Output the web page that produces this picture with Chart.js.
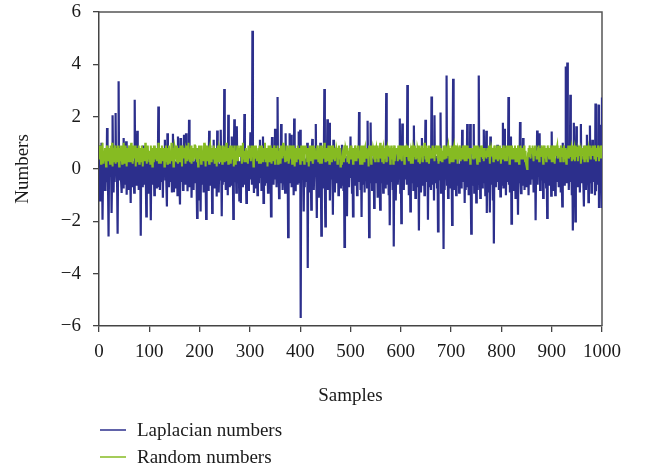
<!DOCTYPE html>
<html>
<head>
<meta charset="utf-8">
<title>Laplacian and random numbers</title>
<script src="https://cdn.jsdelivr.net/npm/chart.js@4.4.1/dist/chart.umd.min.js"></script>
<style>
  html, body { margin: 0; padding: 0; background: #fff; }
  #wrap { width: 649px; height: 471px; position: relative; }
</style>
</head>
<body>
<div id="wrap"><canvas id="noise-chart"></canvas></div>
<script>
// 1000 Laplacian samples, ten per row
var laplacian = [
  0.9, -1.2, 0.3, -0.4, 1.0, 0.2, -1.94, -0.3, 0.5, -0.6,
  0.1, -0.8, 0.4, -0.2, -0.5, 1.57, 0.0, -0.7, -2.58, 0.3,
  -0.3, 0.6, -0.1, 0.2, -1.68, -0.4, 2.05, 0.1, -0.9, 0.4,
  -0.5, 0.2, 2.14, -0.2, 0.5, -0.6, -2.47, 0.3, 3.35, -0.4,
  0.0, -0.3, 0.7, -0.5, -0.92, 0.4, -0.1, -0.7, 1.18, 0.2,
  -0.4, 0.3, -0.6, 1.06, -0.98, 0.1, -0.3, 0.5, -0.8, 0.2,
  0.4, -0.2, -1.3, 0.6, -0.5, 0.0, -0.7, 0.3, -0.1, -0.9,
  2.65, -0.4, 0.2, -0.6, 0.5, 1.46, -0.3, 0.1, -0.8, 0.4,
  -0.2, 0.3, -2.55, 0.6, -0.5, -0.1, -0.7, 0.9, -0.3, 0.2,
  -0.6, 0.5, -0.2, -1.81, 0.3, -0.4, 0.1, -0.9, 0.4, -0.3,
  0.2, -0.5, -1.96, 0.4, -0.1, 0.7, -0.6, -0.2, 0.3, -1.0,
  0.5, -0.3, 0.1, -0.7, 0.4, -0.66, 0.2, 2.39, -0.4, 0.0,
  -0.8, 0.3, -0.2, 0.6, -0.5, 0.1, -1.1, 0.4, -0.3, 0.2,
  1.12, -0.4, 0.3, -0.6, -1.43, 1.37, -0.2, 0.5, -0.7, 0.1,
  -0.3, 0.6, -0.5, 0.2, -0.9, 0.0, 1.35, -0.85, 0.4, -0.2,
  0.3, -0.7, 0.1, -0.4, 0.5, -1.0, 1.24, -0.3, 0.2, -0.6,
  -1.36, 1.18, -0.2, 0.4, -0.5, 0.1, -0.8, 0.3, 1.31, -0.4,
  0.2, -0.6, 1.37, -0.3, 0.5, -0.85, 0.0, -0.4, 1.88, -0.7,
  0.4, -0.2, 0.6, -1.1, 0.1, -0.5, 0.3, -0.8, 0.2, -0.3,
  -0.5, 0.3, 0.8, -0.4, -1.87, 0.5, -0.1, -0.7, 0.4, -1.2,
  0.1, -1.62, 0.5, -0.3, 0.2, -0.6, 0.7, -0.9, 0.0, -0.4,
  0.3, -0.5, -1.91, 0.6, -0.2, 0.4, -0.8, 0.1, 1.46, -0.3,
  -0.6, 0.2, -0.1, 0.5, -1.68, 0.3, -0.4, 1.12, -0.7, 0.0,
  0.4, -0.3, 0.6, -1.05, 1.47, -0.5, 0.2, -0.9, 0.1, -0.2,
  -0.4, 1.5, 0.0, -1.81, 0.3, -0.6, 0.5, -0.2, 3.06, -0.5,
  0.2, -0.8, 0.4, -0.3, 0.6, -1.0, 2.07, -0.1, 0.3, -0.7,
  0.5, -0.2, -0.6, 1.24, -0.4, 0.1, -1.91, 0.3, 1.9, -0.5,
  -0.3, 0.4, -0.9, 1.63, -0.2, 0.6, -0.5, 0.0, -1.2, 0.3,
  0.2, -1.3, 0.5, -0.4, 0.1, -0.7, 0.6, -0.2, 2.1, -0.6,
  0.3, -0.1, -1.3, 0.4, -0.5, 0.7, -0.8, 0.2, -0.3, 0.5,
  1.4, -0.4, 0.1, -0.6, 5.28, -0.2, 0.3, -0.92, 0.5, -0.3,
  -0.7, 0.2, -0.4, 0.6, -1.0, 0.0, -0.5, 0.4, -0.2, 1.12,
  -0.3, 0.5, -0.8, 0.1, -0.4, 1.24, -1.3, 0.3, -0.6, 0.2,
  0.4, -0.2, 0.7, -0.5, 0.0, -0.9, 0.3, -0.3, 0.6, -0.7,
  0.1, -1.81, 0.4, 1.22, -0.3, 0.2, -0.6, 0.5, -0.4, 1.54,
  -0.2, 0.3, -0.7, 0.6, 2.75, -0.4, 0.1, -1.11, 0.4, -0.5,
  0.0, 1.72, -0.3, 0.5, -0.8, 0.2, -0.5, 0.7, -0.1, -0.9,
  1.37, -0.4, 0.3, -0.6, 0.4, -2.6, 0.1, -0.3, 1.37, -0.5,
  0.2, 1.31, -0.7, 0.4, -0.2, 0.6, -1.0, 1.93, -0.4, 0.3,
  -0.85, 0.5, -0.3, 0.1, -0.6, 0.4, 1.43, -0.5, 0.2, 1.5,
  -5.69, 0.3, -0.4, 0.6, -0.2, 0.1, -1.62, 0.4, -0.7, 0.2,
  -0.5, 0.3, -0.1, 1.0, -3.78, 0.5, -0.6, 0.2, -0.9, 0.4,
  0.1, -1.55, 0.6, 1.15, -0.4, 0.2, -0.8, 0.0, -0.3, 0.5,
  1.72, -0.2, -1.87, 0.4, -0.5, 0.3, -1.1, 0.6, -0.4, 1.0,
  0.2, -2.55, 0.5, -0.3, 0.1, -0.7, 0.4, 3.06, -0.6, -2.19,
  0.3, -0.5, -0.1, 1.9, -0.8, 0.4, -0.2, 1.77, -1.2, 0.2,
  -0.4, 0.6, -0.3, 0.1, -1.75, 1.12, -0.6, 0.3, -0.9, 0.5,
  0.0, -0.5, 0.4, -0.2, 0.7, -1.0, 0.2, -0.4, 0.5, -0.7,
  0.3, -0.6, 0.93, -0.3, 0.1, -0.8, 0.4, -2.98, 0.6, -0.2,
  -0.5, 0.2, -1.81, 0.5, -0.3, 0.0, -0.7, 0.4, -0.1, 1.24,
  -0.3, 0.6, -0.9, 0.2, -1.81, 0.4, -0.2, 0.1, -0.6, 0.5,
  -0.4, 0.3, -1.0, 0.5, -0.2, 0.0, 2.18, -0.5, 0.4, -0.8,
  0.1, -1.83, 0.6, -0.3, 0.4, -0.6, 0.2, -0.9, 0.5, -0.1,
  -0.4, 0.3, -0.7, 1.84, -0.2, 0.5, -2.6, 0.1, -0.5, 1.78,
  -0.3, 0.4, -0.8, 0.2, -0.1, 0.6, -1.49, 0.3, -0.5, 0.0,
  0.5, -0.4, 0.2, -1.1, 0.4, -0.2, 0.7, -0.6, -1.55, 0.3,
  -0.2, 0.6, -0.5, 0.1, -0.9, 0.4, -0.3, 0.5, -0.7, 0.2,
  2.9, -0.4, 0.3, -0.6, 0.0, -1.0, 0.5, -2.15, 0.2, -0.3,
  0.6, -0.5, 0.1, -0.8, 0.4, -2.96, 0.3, -0.2, 0.5, -1.2,
  0.2, -0.3, 0.7, -0.6, 0.0, -0.4, 0.5, 1.93, -0.9, 0.3,
  -2.07, 0.4, 1.74, -0.5, 0.1, -0.8, 0.3, -0.2, 0.6, -0.4,
  0.2, -0.6, 3.21, -0.3, 0.5, -1.0, 0.1, 0.4, -1.62, 0.3,
  -0.5, 0.2, -0.2, 0.6, -0.8, 1.66, -0.4, 0.3, -1.1, 0.0,
  0.4, -0.3, 0.6, -0.7, 0.1, -2.35, 0.5, -0.2, 0.3, -0.9,
  -0.4, 1.18, -0.6, 0.2, -0.1, 0.5, -1.0, 0.3, 1.88, -0.5,
  0.3, -0.2, 0.6, -1.94, 0.4, -0.7, 0.1, -0.4, 0.5, -0.8,
  2.77, -0.3, 0.2, -0.6, 0.4, -1.2, 2.05, -0.5, 0.1, -0.3,
  0.5, -0.7, 0.3, -2.38, 0.0, -0.4, 0.6, -0.2, 2.16, -0.9,
  0.2, -0.5, 0.4, -0.3, -3.06, 0.6, -0.8, 0.1, -0.4, 0.3,
  3.57, -0.6, 0.2, -1.1, 0.5, -0.3, 0.4, -0.7, 0.0, -0.5,
  0.3, -2.14, 0.5, 3.45, -0.4, 0.1, -0.8, 0.6, -0.2, -1.0,
  0.4, -0.3, 0.7, -0.6, 0.2, -0.9, 0.0, -0.4, 0.5, -0.7,
  0.1, 1.5, -0.5, 0.3, -0.2, 0.6, -1.3, 0.4, -0.8, 0.2,
  -0.4, 1.72, -0.7, 0.3, -1.0, 0.5, -0.2, 1.72, -0.5, -2.47,
  0.4, -0.6, 0.2, -0.3, 1.72, -0.9, 0.6, -0.1, 0.3, -1.28,
  -0.2, 0.5, -0.8, 0.1, 3.57, -0.4, 0.3, -1.1, 0.6, -0.3,
  0.2, -0.7, 0.4, -0.5, 1.51, -0.2, 0.6, -1.0, 0.0, 1.46,
  -1.68, 0.3, -0.4, 0.5, -0.9, 0.2, -1.66, 1.24, -0.3, 0.4,
  -0.6, 0.1, -1.2, 0.6, -2.85, 0.4, -0.3, 0.2, -0.7, 0.5,
  -0.2, 0.93, -0.5, 0.3, -0.8, 0.6, -0.1, -1.05, 0.4, -0.6,
  0.2, -0.4, 1.77, -0.7, 0.1, 1.54, -0.3, 0.5, -1.0, 0.3,
  -0.5, 0.4, -0.2, 2.75, -0.6, 0.2, -0.9, 0.0, 1.24, -2.09,
  0.3, -0.4, 0.6, -0.8, 0.1, -0.3, 0.5, -1.1, 0.2, -0.6,
  0.4, -0.2, -1.75, 0.5, -0.5, 0.1, 1.8, -0.4, -0.92, 0.3,
  -0.6, 0.2, 1.18, -0.3, 0.6, -0.8, 0.0, -0.4, 0.4, -0.7,
  0.1, -0.5, 0.3, -1.0, 0.5, -0.2, 0.2, -0.6, 0.4, -0.3,
  0.6, -0.4, 0.1, -0.9, 0.3, -0.2, 0.5, -1.96, 0.2, -0.5,
  1.47, -0.6, 0.4, -0.3, 0.0, 1.37, -0.8, 0.2, -0.4, 0.5,
  -0.2, 0.3, -1.1, 0.6, -0.5, 0.1, -0.3, 0.4, -0.7, 0.2,
  -1.87, 0.5, -0.3, 0.2, -0.6, 0.4, -0.1, 0.6, -1.02, 1.43,
  -0.4, 0.2, -0.8, 0.5, -0.2, 0.3, -1.0, 0.0, 0.4, -0.5,
  0.6, -0.3, 0.1, -0.7, 0.4, -0.2, 0.5, -0.9, 0.2, -0.4,
  -1.43, 1.0, -0.4, 0.3, -0.6, 0.5, -0.2, 3.92, -0.5, 0.2,
  4.07, -0.3, 0.6, -0.8, 0.1, -0.5, 2.84, -0.2, 0.4, -1.0,
  0.3, -2.35, 0.5, 1.77, -0.4, 0.2, -2.0, -0.3, 1.63, -0.6,
  0.4, -0.7, 0.1, -0.3, 0.6, -0.9, 0.2, 1.72, -0.5, 0.3,
  -0.2, 0.5, -0.6, -1.43, 0.4, -0.1, 0.3, -0.8, 0.0, 1.31,
  -0.4, 0.6, -1.27, 0.2, -0.5, 1.66, -0.3, 0.4, -0.9, 0.1,
  1.12, -0.5, 0.3, -0.2, 0.6, -1.0, 2.5, -0.85, 0.4, -0.3,
  0.2, -0.6, 2.46, -1.49, 0.5, 1.69, -0.4, 0.3, -1.49, 2.73
];

// 1000 uniform random samples, ten per row
var uniform = [
  0.9, 0.4, 0.8, 0.2, 0.9, 0.3, 1.0, 0.5, 0.2, 0.7,
  0.3, 0.8, 0.6, 0.1, 0.7, 0.9, 0.4, 0.6, 0.3, 0.8,
  0.5, 0.2, 0.9, 0.7, 0.4, 1.0, 0.1, 0.6, 0.8, 0.3,
  0.7, 0.9, 0.2, 0.5, 0.8, 0.3, 0.6, 0.9, 0.4, 0.1,
  0.8, 0.5, 0.3, 0.9, 0.6, 0.2, 0.7, 0.4, 1.0, 0.5,
  0.2, 0.7, 0.9, 0.4, 0.1, 0.8, 0.5, 0.3, 0.7, 0.9,
  0.6, 0.3, 0.8, 1.0, 0.4, 0.6, 0.2, 0.9, 0.5, 0.7,
  0.4, 0.9, 0.1, 0.6, 0.8, 0.3, 0.7, 0.5, 0.9, 0.2,
  0.8, 0.5, 0.7, 0.3, 0.9, 0.6, 0.1, 0.8, 0.4, 0.6,
  0.3, 1.0, 0.5, 0.8, 0.2, 0.7, 0.9, 0.4, 0.6, 0.3,
  0.7, 0.2, 0.9, 0.5, 0.6, 0.1, 0.8, 0.3, 0.9, 0.5,
  0.9, 0.4, 0.6, 0.8, 0.3, 0.7, 0.5, 1.0, 0.2, 0.6,
  0.4, 0.8, 0.2, 0.7, 0.9, 0.5, 0.3, 0.6, 0.8, 0.1,
  0.6, 0.3, 0.9, 0.4, 0.7, 0.2, 0.8, 0.5, 0.9, 0.4,
  0.2, 0.7, 0.5, 1.0, 0.3, 0.8, 0.6, 0.1, 0.7, 0.9,
  0.8, 0.4, 0.7, 0.3, 0.9, 0.6, 0.2, 0.8, 0.5, 0.3,
  0.5, 0.9, 0.3, 0.6, 0.1, 0.9, 0.7, 0.4, 0.8, 0.6,
  0.7, 0.2, 0.8, 0.5, 0.9, 0.3, 0.6, 1.0, 0.4, 0.7,
  0.3, 0.6, 0.9, 0.2, 0.7, 0.5, 0.8, 0.3, 0.6, 0.9,
  0.9, 0.5, 0.4, 0.8, 0.3, 0.7, 0.1, 0.6, 0.9, 0.4,
  0.6, 0.8, 0.2, 0.9, 0.5, 0.4, 0.7, 0.3, 1.0, 0.6,
  0.4, 0.1, 0.7, 0.6, 0.9, 0.3, 0.8, 0.5, 0.2, 0.8,
  0.9, 0.6, 0.3, 0.8, 0.4, 0.7, 0.5, 0.9, 0.6, 0.2,
  0.5, 0.8, 0.6, 0.1, 0.7, 0.9, 0.3, 0.4, 0.8, 0.7,
  0.3, 0.9, 0.5, 0.7, 0.2, 0.6, 0.9, 0.5, 0.3, 0.8,
  0.8, 0.4, 1.0, 0.3, 0.6, 0.8, 0.2, 0.7, 0.5, 0.9,
  0.6, 0.2, 0.7, 0.9, 0.4, 0.5, 0.8, 0.1, 0.9, 0.4,
  0.2, 0.7, 0.4, 0.6, 0.9, 0.3, 0.7, 0.8, 0.5, 0.6,
  0.9, 0.5, 0.8, 0.2, 0.6, 1.0, 0.4, 0.6, 0.3, 0.7,
  0.4, 0.8, 0.3, 0.7, 0.5, 0.2, 0.9, 0.4, 0.7, 0.8,
  0.7, 0.3, 0.9, 0.5, 0.8, 0.6, 0.1, 0.9, 0.6, 0.4,
  0.5, 0.9, 0.6, 0.3, 0.7, 0.4, 0.8, 0.2, 0.9, 0.6,
  0.8, 0.2, 0.7, 0.9, 0.3, 0.8, 0.5, 0.7, 0.4, 1.0,
  0.3, 0.6, 0.5, 0.8, 0.1, 0.7, 0.9, 0.3, 0.6, 0.5,
  0.9, 0.7, 0.2, 0.6, 0.8, 0.4, 0.3, 0.9, 0.7, 0.2,
  0.6, 0.4, 0.8, 0.5, 0.9, 0.2, 0.7, 0.6, 0.3, 0.8,
  0.2, 0.9, 0.6, 0.7, 0.4, 1.0, 0.5, 0.8, 0.9, 0.3,
  0.7, 0.5, 0.3, 0.9, 0.6, 0.8, 0.2, 0.4, 0.7, 0.9,
  0.4, 0.8, 0.9, 0.2, 0.5, 0.6, 0.9, 0.7, 0.1, 0.6,
  0.8, 0.3, 0.6, 0.7, 0.9, 0.4, 0.5, 0.8, 0.6, 0.2,
  0.5, 0.9, 0.4, 0.8, 0.3, 0.7, 0.9, 0.2, 0.6, 0.8,
  0.9, 0.6, 0.7, 0.3, 0.8, 0.5, 0.1, 0.7, 0.9, 0.4,
  0.3, 0.7, 0.9, 0.6, 0.2, 0.9, 0.6, 0.4, 0.8, 0.5,
  0.7, 0.4, 0.5, 0.9, 0.7, 0.3, 0.8, 0.6, 0.2, 0.9,
  0.6, 0.9, 0.2, 0.5, 0.8, 0.6, 0.4, 1.0, 0.7, 0.3,
  0.4, 0.5, 0.8, 0.7, 0.3, 0.9, 0.6, 0.2, 0.5, 0.8,
  0.9, 0.3, 0.6, 0.4, 0.9, 0.7, 0.5, 0.8, 0.3, 0.6,
  0.5, 0.8, 0.7, 0.2, 0.6, 0.4, 0.9, 0.6, 0.8, 0.1,
  0.3, 0.2, 0.4, 0.6, 0.5, 0.3, 0.7, 0.9, 0.4, 0.8,
  0.8, 0.6, 0.9, 0.3, 0.7, 0.5, 0.2, 0.8, 0.6, 0.9,
  0.4, 0.9, 0.5, 0.7, 0.2, 0.8, 0.6, 0.3, 0.9, 0.7,
  0.7, 0.3, 0.8, 0.6, 0.9, 0.4, 0.7, 0.5, 0.2, 0.6,
  0.9, 0.6, 0.2, 0.8, 0.5, 0.9, 0.3, 0.7, 0.8, 0.4,
  0.5, 0.8, 0.7, 0.4, 0.6, 0.1, 0.9, 0.5, 0.6, 0.9,
  0.2, 0.6, 0.9, 0.5, 0.8, 0.7, 0.4, 0.9, 0.3, 0.7,
  0.8, 0.4, 0.6, 0.9, 0.3, 0.5, 0.8, 0.6, 1.0, 0.4,
  0.6, 0.9, 0.3, 0.7, 0.8, 0.2, 0.6, 0.4, 0.7, 0.9,
  0.3, 0.7, 0.8, 0.5, 0.6, 0.9, 0.5, 0.8, 0.2, 0.6,
  0.9, 0.5, 0.4, 0.8, 0.2, 0.7, 0.9, 0.3, 0.6, 0.8,
  0.6, 0.8, 0.7, 0.3, 0.9, 0.6, 0.4, 0.7, 0.9, 0.5,
  0.4, 0.3, 0.9, 0.6, 0.7, 0.8, 0.2, 0.9, 0.5, 0.7,
  0.8, 0.7, 0.5, 0.9, 0.4, 0.3, 0.8, 0.6, 0.7, 0.2,
  0.5, 0.9, 0.6, 0.2, 0.8, 0.7, 0.5, 0.9, 0.4, 0.8,
  0.7, 0.4, 0.8, 0.7, 0.3, 0.9, 0.6, 0.2, 0.8, 0.6,
  0.9, 0.6, 0.3, 0.8, 0.6, 0.5, 1.0, 0.7, 0.4, 0.9,
  0.3, 0.8, 0.7, 0.5, 0.9, 0.2, 0.6, 0.8, 0.6, 0.4,
  0.7, 0.5, 0.9, 0.4, 0.7, 0.8, 0.3, 0.6, 0.9, 0.7,
  0.6, 0.9, 0.4, 0.8, 0.2, 0.6, 0.9, 0.5, 0.3, 0.8,
  0.8, 0.3, 0.7, 0.6, 0.9, 0.4, 0.7, 0.9, 0.6, 0.5,
  0.4, 0.7, 0.8, 0.9, 0.5, 0.6, 0.2, 0.7, 0.8, 0.3,
  0.9, 0.5, 0.6, 0.3, 0.8, 0.9, 0.6, 0.4, 0.7, 0.9,
  0.5, 0.8, 0.2, 0.7, 0.6, 0.4, 0.9, 0.8, 0.3, 0.6,
  0.7, 0.4, 0.9, 0.5, 0.9, 0.7, 0.3, 0.6, 0.9, 0.8,
  0.3, 0.9, 0.6, 0.8, 0.4, 0.5, 0.8, 0.2, 0.6, 0.7,
  0.8, 0.6, 0.7, 0.4, 0.7, 0.9, 0.5, 0.9, 0.4, 0.6,
  0.6, 0.2, 0.9, 0.6, 0.5, 0.3, 0.7, 0.8, 0.9, 0.5,
  0.9, 0.7, 0.4, 0.8, 0.3, 0.8, 0.6, 0.5, 0.7, 0.4,
  0.4, 0.8, 0.6, 0.5, 0.9, 0.6, 0.2, 0.9, 0.5, 0.8,
  0.7, 0.5, 0.8, 0.3, 0.6, 0.9, 0.7, 0.4, 0.8, 0.6,
  0.5, 0.9, 0.3, 0.7, 0.8, 0.4, 0.9, 0.6, 0.2, 0.7,
  0.8, 0.4, 0.7, 0.9, 0.5, 0.7, 0.3, 0.8, 0.6, 0.9,
  0.3, 0.7, 0.5, 0.6, 0.9, 0.2, 0.8, 0.5, 0.9, 0.4,
  0.9, 0.6, 0.8, 0.4, 0.7, 0.5, 0.9, 0.3, 0.6, 0.8,
  0.6, 0.3, 0.9, 0.7, 0.2, 0.8, 0.6, 0.9, 0.4, 0.7,
  0.5, 0.8, 0.4, 0.6, 0.9, 0.5, 0.3, 0.7, 0.2, 0.1,
  0.0, 0.3, 0.6, 0.8, 0.5, 0.9, 0.7, 0.4, 0.8, 0.6,
  0.7, 0.9, 0.5, 0.3, 0.8, 0.6, 0.9, 0.5, 0.7, 0.4,
  0.4, 0.6, 0.8, 0.9, 0.3, 0.7, 0.5, 0.8, 0.6, 0.9,
  0.8, 0.5, 0.2, 0.7, 0.9, 0.4, 0.8, 0.6, 0.3, 0.7,
  0.6, 0.9, 0.7, 0.5, 0.4, 0.8, 0.6, 0.9, 0.7, 0.3,
  0.3, 0.7, 0.9, 0.6, 0.8, 0.2, 0.9, 0.5, 0.6, 0.8,
  0.9, 0.4, 0.6, 0.8, 0.5, 0.7, 0.3, 0.9, 0.8, 0.5,
  0.5, 0.8, 0.3, 0.9, 0.7, 0.6, 0.8, 0.4, 0.2, 0.7,
  0.7, 0.6, 0.9, 0.4, 0.6, 0.9, 0.5, 0.7, 0.8, 0.3,
  0.4, 0.9, 0.5, 0.7, 0.8, 0.3, 0.6, 0.9, 0.5, 0.8,
  0.8, 0.3, 0.7, 0.6, 0.9, 0.5, 0.8, 0.2, 0.7, 0.6,
  0.6, 0.8, 0.4, 0.9, 0.3, 0.7, 0.9, 0.6, 0.4, 0.9,
  0.3, 0.7, 0.8, 0.5, 0.9, 0.6, 0.4, 0.8, 0.7, 0.5,
  0.9, 0.5, 0.6, 0.8, 0.4, 0.9, 0.7, 0.3, 0.8, 0.6,
  0.5, 0.9, 0.7, 0.3, 0.8, 0.6, 0.9, 0.4, 0.7, 0.9
];

var seriesNames = ['Laplacian numbers', 'Random numbers'];
var seriesColors = ['#2c2f8c', '#86bb22'];
var xTicks = [0, 100, 200, 300, 400, 500, 600, 700, 800, 900, 1000];
var yTicks = [-6, -4, -2, 0, 2, 4, 6];

// sample number of each value, 1..1000
var samples = laplacian.map(function (v, i) { return i + 1; });

var FONT = '"Liberation Serif", "Times New Roman", serif';
Chart.defaults.font.family = FONT;
Chart.defaults.font.size = 19;
Chart.defaults.color = '#1a1a1a';

// top and right edges of the plot box
var boxEdges = {
  id: 'boxEdges',
  beforeDatasetsDraw: function (chart) {
    var a = chart.chartArea, ctx = chart.ctx;
    ctx.save();
    ctx.strokeStyle = '#555';
    ctx.lineWidth = 1.5;
    ctx.beginPath();
    ctx.moveTo(a.left, a.top);
    ctx.lineTo(a.right, a.top);
    ctx.lineTo(a.right, a.bottom);
    ctx.stroke();
    ctx.restore();
  }
};

// legend stacked under the x axis, left aligned with the plot
var stackedLegend = {
  id: 'stackedLegend',
  afterDraw: function (chart) {
    var ctx = chart.ctx;
    var left = chart.chartArea.left;
    var top = chart.chartArea.bottom + 104;
    ctx.save();
    ctx.font = '19px ' + FONT;
    ctx.textBaseline = 'middle';
    ctx.fillStyle = '#1a1a1a';
    seriesNames.forEach(function (name, i) {
      var y = top + i * 27;
      ctx.strokeStyle = seriesColors[i];
      ctx.lineWidth = 1.5;
      ctx.beginPath();
      ctx.moveTo(left + 1, y);
      ctx.lineTo(left + 27, y);
      ctx.stroke();
      ctx.fillText(name, left + 38, y + 1);
    });
    ctx.restore();
  }
};

function minusSign(v) {
  return v < 0 ? '\u2212' + Math.abs(v) : String(v);
}

new Chart(document.getElementById('noise-chart'), {
  type: 'line',
  data: {
    labels: samples,
    datasets: [{
      // random numbers sit on top of the Laplacian trace
      label: seriesNames[1],
      data: uniform,
      borderColor: seriesColors[1],
      backgroundColor: seriesColors[1],
      borderWidth: 2,
      pointRadius: 0,
      tension: 0
    }, {
      label: seriesNames[0],
      data: laplacian,
      borderColor: seriesColors[0],
      backgroundColor: seriesColors[0],
      borderWidth: 2.2,
      pointRadius: 0,
      tension: 0
    }]
  },
  options: {
    responsive: true,
    maintainAspectRatio: false,
    animation: false,
    layout: { padding: { top: 12, right: 47, left: 0, bottom: 0 } },
    plugins: {
      legend: { display: false },
      tooltip: { enabled: false }
    },
    scales: {
      x: {
        type: 'linear',
        min: 0,
        max: 1000,
        afterBuildTicks: function (axis) {
          axis.ticks = xTicks.map(function (v) { return { value: v }; });
        },
        afterFit: function (axis) { axis.height = 145; },
        ticks: {
          autoSkip: false, maxRotation: 0, padding: 9, color: '#1a1a1a',
          callback: function (v) { return String(v); }
        },
        grid: { drawOnChartArea: false, tickLength: 6, color: '#444', lineWidth: 1.3 },
        border: { color: '#444', width: 1.5 },
        title: { display: true, text: 'Samples', color: '#1a1a1a', padding: { top: 0, bottom: 64 } }
      },
      y: {
        min: -6,
        max: 6,
        afterBuildTicks: function (axis) {
          axis.ticks = yTicks.map(function (v) { return { value: v }; });
        },
        afterFit: function (axis) {
          axis.width = 99;
          // keep the label overhang from pushing the plot down
          axis.paddingTop = 0;
          axis.paddingBottom = 0;
        },
        ticks: { padding: 12, color: '#1a1a1a', callback: minusSign },
        grid: { drawOnChartArea: false, tickLength: 6, color: '#444', lineWidth: 1.3 },
        border: { color: '#444', width: 1.5 },
        title: { display: true, text: 'Numbers', color: '#1a1a1a', padding: { top: 12, bottom: 0 } }
      }
    }
  },
  plugins: [boxEdges, stackedLegend]
});
</script>
</body>
</html>
